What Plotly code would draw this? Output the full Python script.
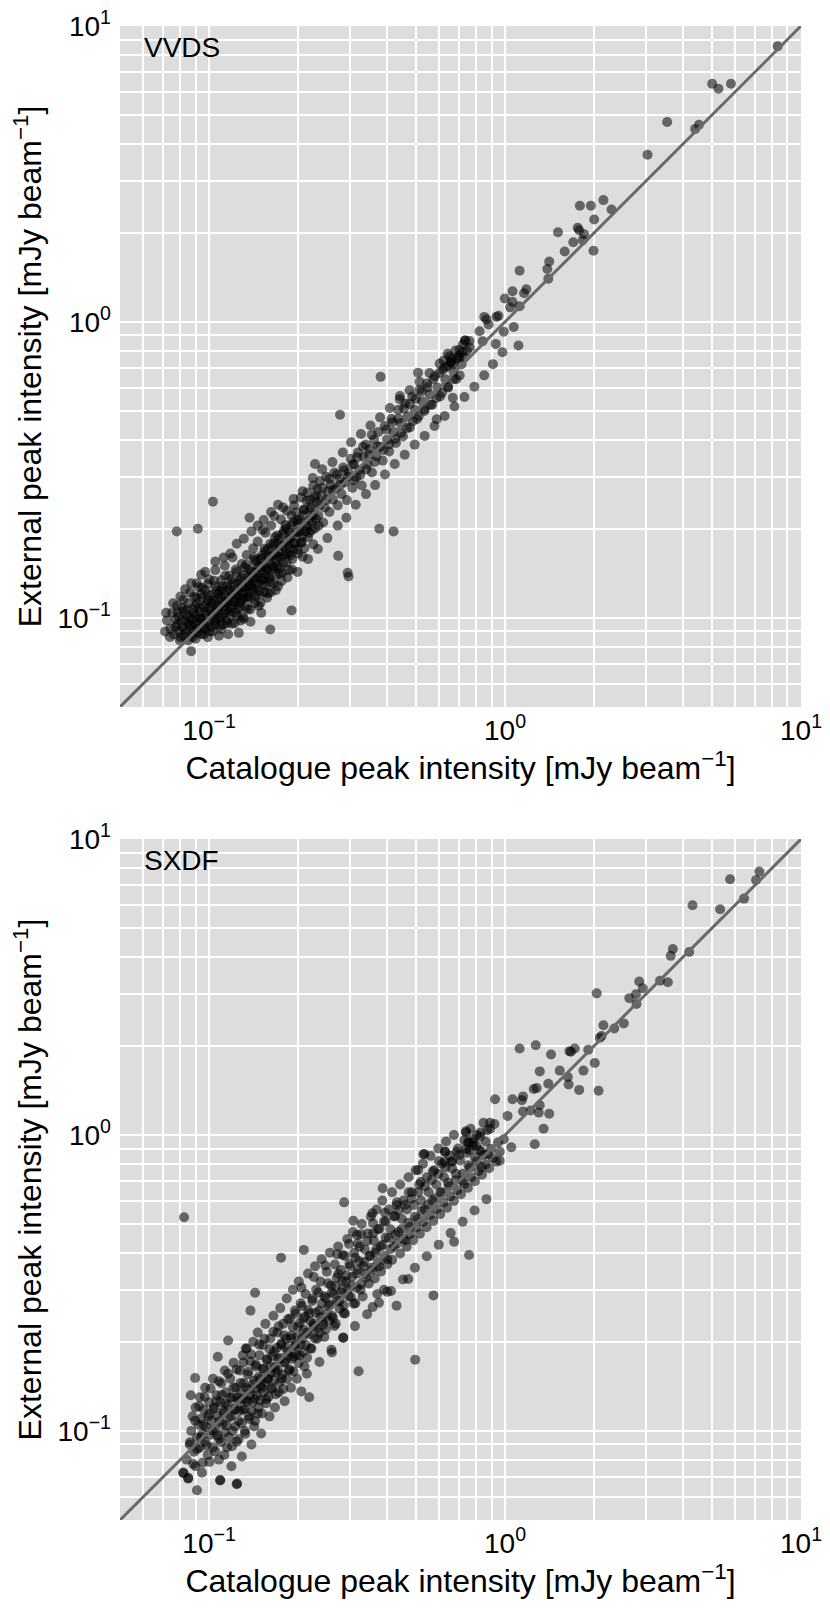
import plotly.graph_objects as go

# VVDS: catalogue peak vs external peak intensity (mJy/beam)
vvds_core = [
    (0.072, 0.098), (0.074, 0.092), (0.075, 0.104), (0.076, 0.088), (0.078, 0.095), (0.078, 0.110),
    (0.079, 0.101), (0.080, 0.086), (0.080, 0.118), (0.081, 0.093), (0.082, 0.105), (0.083, 0.098),
    (0.083, 0.125), (0.084, 0.089), (0.085, 0.112), (0.085, 0.084), (0.086, 0.100), (0.087, 0.095),
    (0.087, 0.131), (0.088, 0.107), (0.089, 0.090), (0.089, 0.118), (0.090, 0.102), (0.090, 0.085),
    (0.091, 0.112), (0.092, 0.096), (0.092, 0.127), (0.093, 0.105), (0.094, 0.088), (0.094, 0.140),
    (0.095, 0.099), (0.095, 0.117), (0.096, 0.109), (0.097, 0.092), (0.097, 0.124), (0.098, 0.102),
    (0.099, 0.115), (0.099, 0.086), (0.100, 0.108), (0.100, 0.135), (0.101, 0.097), (0.102, 0.120),
    (0.103, 0.112), (0.103, 0.090), (0.104, 0.104), (0.105, 0.128), (0.105, 0.145), (0.106, 0.099),
    (0.107, 0.116), (0.108, 0.109), (0.108, 0.087), (0.109, 0.123), (0.110, 0.134), (0.110, 0.101),
    (0.111, 0.112), (0.112, 0.095), (0.113, 0.119), (0.113, 0.150), (0.114, 0.106), (0.115, 0.128),
    (0.116, 0.113), (0.116, 0.088), (0.117, 0.139), (0.118, 0.102), (0.119, 0.121), (0.120, 0.110),
    (0.120, 0.160), (0.121, 0.131), (0.122, 0.096), (0.123, 0.117), (0.124, 0.143), (0.125, 0.107),
    (0.125, 0.125), (0.126, 0.089), (0.127, 0.134), (0.128, 0.114), (0.129, 0.152), (0.130, 0.121),
    (0.130, 0.101), (0.131, 0.140), (0.132, 0.127), (0.133, 0.109), (0.134, 0.163), (0.135, 0.131),
    (0.136, 0.118), (0.137, 0.146), (0.138, 0.097), (0.139, 0.136), (0.140, 0.124), (0.141, 0.172),
    (0.142, 0.142), (0.143, 0.112), (0.144, 0.155), (0.145, 0.131), (0.146, 0.181), (0.147, 0.120),
    (0.148, 0.148), (0.149, 0.137), (0.150, 0.104), (0.151, 0.163), (0.152, 0.129), (0.153, 0.150),
    (0.155, 0.194), (0.156, 0.140), (0.157, 0.117), (0.158, 0.171), (0.160, 0.155), (0.161, 0.132),
    (0.162, 0.205), (0.163, 0.162), (0.165, 0.146), (0.166, 0.178), (0.168, 0.124), (0.169, 0.157),
    (0.170, 0.190), (0.172, 0.168), (0.173, 0.141), (0.175, 0.215), (0.176, 0.175), (0.178, 0.153),
    (0.179, 0.197), (0.181, 0.164), (0.183, 0.230), (0.184, 0.183), (0.186, 0.145), (0.187, 0.172),
    (0.189, 0.206), (0.191, 0.158), (0.192, 0.190), (0.194, 0.240), (0.196, 0.178), (0.198, 0.214),
    (0.200, 0.165), (0.202, 0.196), (0.204, 0.255), (0.206, 0.187), (0.208, 0.222), (0.210, 0.172),
]

vvds_core_extra = [
    (0.077, 0.099), (0.079, 0.090), (0.081, 0.108), (0.082, 0.087), (0.084, 0.102), (0.086, 0.094),
    (0.088, 0.099), (0.088, 0.086), (0.090, 0.110), (0.091, 0.092), (0.093, 0.100), (0.094, 0.120),
    (0.096, 0.095), (0.096, 0.088), (0.098, 0.112), (0.099, 0.130), (0.101, 0.105), (0.102, 0.093),
    (0.104, 0.115), (0.105, 0.097), (0.106, 0.124), (0.107, 0.106), (0.109, 0.094), (0.110, 0.117),
    (0.111, 0.128), (0.112, 0.103), (0.114, 0.113), (0.115, 0.096), (0.117, 0.124), (0.118, 0.108),
    (0.119, 0.135), (0.121, 0.114), (0.122, 0.104), (0.124, 0.122), (0.126, 0.131), (0.127, 0.112),
    (0.128, 0.098), (0.129, 0.127), (0.131, 0.117), (0.132, 0.148), (0.134, 0.122), (0.135, 0.107),
    (0.136, 0.138), (0.138, 0.128), (0.139, 0.116), (0.141, 0.133), (0.142, 0.157), (0.144, 0.126),
    (0.146, 0.142), (0.147, 0.110), (0.149, 0.158), (0.150, 0.134), (0.152, 0.145), (0.154, 0.122),
    (0.155, 0.168), (0.157, 0.146), (0.159, 0.138), (0.161, 0.178), (0.163, 0.150), (0.165, 0.131),
    (0.167, 0.165), (0.170, 0.150), (0.172, 0.185), (0.174, 0.160), (0.177, 0.142), (0.180, 0.175),
    (0.182, 0.200), (0.185, 0.165), (0.188, 0.185), (0.190, 0.222), (0.193, 0.170), (0.197, 0.195),
    (0.200, 0.210), (0.205, 0.180), (0.209, 0.232), (0.214, 0.200), (0.219, 0.250), (0.224, 0.222),
    (0.230, 0.260), (0.236, 0.240), (0.242, 0.275), (0.248, 0.250), (0.255, 0.295), (0.262, 0.270),
    (0.270, 0.305), (0.278, 0.282), (0.286, 0.315), (0.295, 0.300), (0.305, 0.330),
    (0.071, 0.090), (0.0716, 0.104), (0.087, 0.0772), (0.161, 0.0913), (0.190, 0.106),
    (0.118, 0.165), (0.124, 0.178), (0.131, 0.185), (0.139, 0.196), (0.146, 0.205), (0.153, 0.214),
    (0.162, 0.228), (0.171, 0.241), (0.105, 0.155), (0.112, 0.160), (0.097, 0.143), (0.091, 0.131),
]

vvds_core_more = [
    (0.0738, 0.0862), (0.0756, 0.1121), (0.0769, 0.0934), (0.0783, 0.1047), (0.0797, 0.0839),
    (0.0806, 0.0978), (0.0819, 0.1152), (0.0828, 0.0912), (0.0841, 0.1067), (0.0853, 0.0958),
    (0.0862, 0.1219), (0.0874, 0.0881), (0.0886, 0.1034), (0.0895, 0.0951), (0.0907, 0.1169),
    (0.0918, 0.0893), (0.0927, 0.1082), (0.0939, 0.0987), (0.0948, 0.1264), (0.0961, 0.0917),
    (0.0972, 0.1046), (0.0984, 0.0962), (0.0993, 0.1198), (0.1006, 0.0899), (0.1017, 0.1123),
    (0.1029, 0.1018), (0.1038, 0.1336), (0.1051, 0.0952), (0.1062, 0.1089), (0.1074, 0.1207),
    (0.1086, 0.1003), (0.1097, 0.0915), (0.1108, 0.1246), (0.1121, 0.1091), (0.1133, 0.1387),
    (0.1144, 0.0982), (0.1157, 0.1162), (0.1168, 0.1053), (0.1181, 0.1291), (0.1193, 0.0956),
    (0.1206, 0.1203), (0.1219, 0.1127), (0.1231, 0.1457), (0.1243, 0.1018), (0.1256, 0.1189),
    (0.1269, 0.1087), (0.1282, 0.1368), (0.1296, 0.1153), (0.1309, 0.0994), (0.1322, 0.1265),
    (0.1336, 0.1512), (0.1349, 0.1178), (0.1363, 0.1321), (0.1377, 0.1068), (0.1391, 0.1429),
    (0.1405, 0.1256), (0.1419, 0.1602), (0.1434, 0.1183), (0.1448, 0.1367), (0.1463, 0.1491),
    (0.1478, 0.1231), (0.1493, 0.1125), (0.1508, 0.1589), (0.1523, 0.1352), (0.1539, 0.1713),
    (0.1554, 0.1287), (0.1570, 0.1461), (0.1586, 0.1611), (0.1602, 0.1358), (0.1619, 0.1221),
    (0.1635, 0.1756), (0.1652, 0.1484), (0.1669, 0.1872), (0.1686, 0.1402), (0.1703, 0.1612),
    (0.1721, 0.1779), (0.1738, 0.1478), (0.1756, 0.1331), (0.1774, 0.1926), (0.1792, 0.1631),
    (0.1811, 0.2058), (0.1829, 0.1542), (0.1848, 0.1768), (0.1867, 0.1952), (0.1886, 0.1627),
    (0.1906, 0.1458), (0.1926, 0.2103), (0.1946, 0.1786), (0.1966, 0.2276), (0.1986, 0.1703),
    (0.2007, 0.1942), (0.2028, 0.2151), (0.2049, 0.1796), (0.2070, 0.1609), (0.2092, 0.2318),
    (0.2114, 0.1963), (0.2136, 0.2487), (0.2158, 0.1872), (0.2181, 0.2136), (0.2203, 0.2362),
    (0.2226, 0.1978), (0.2250, 0.1772), (0.2273, 0.2542), (0.2297, 0.2158), (0.2321, 0.2718),
    (0.2345, 0.2049),
]

vvds_band = [
    (0.213, 0.205), (0.215, 0.265), (0.218, 0.194), (0.220, 0.232), (0.223, 0.212), (0.225, 0.280),
    (0.228, 0.201), (0.231, 0.246), (0.234, 0.222), (0.237, 0.290), (0.240, 0.258), (0.243, 0.210),
    (0.246, 0.236), (0.249, 0.300), (0.252, 0.268), (0.255, 0.228), (0.258, 0.282), (0.262, 0.251),
    (0.265, 0.310), (0.268, 0.274), (0.272, 0.240), (0.276, 0.295), (0.280, 0.262), (0.284, 0.322),
    (0.288, 0.287), (0.292, 0.250), (0.297, 0.308), (0.301, 0.345), (0.305, 0.275), (0.309, 0.330),
    (0.314, 0.298), (0.318, 0.362), (0.323, 0.316), (0.328, 0.280), (0.333, 0.350), (0.338, 0.385),
    (0.343, 0.330), (0.349, 0.372), (0.355, 0.310), (0.361, 0.400), (0.367, 0.352), (0.373, 0.425),
    (0.379, 0.378), (0.386, 0.340), (0.392, 0.445), (0.399, 0.400), (0.406, 0.365), (0.413, 0.470),
    (0.420, 0.425), (0.428, 0.390), (0.436, 0.505), (0.444, 0.455), (0.452, 0.410), (0.460, 0.530),
    (0.468, 0.480), (0.477, 0.440), (0.486, 0.560), (0.495, 0.505), (0.504, 0.470), (0.514, 0.590),
    (0.524, 0.540), (0.534, 0.500), (0.545, 0.620), (0.556, 0.570), (0.567, 0.525), (0.579, 0.655),
    (0.591, 0.600), (0.603, 0.560), (0.616, 0.690), (0.629, 0.640), (0.642, 0.600), (0.656, 0.730),
    (0.670, 0.680), (0.684, 0.640), (0.698, 0.770), (0.713, 0.720), (0.728, 0.760), (0.743, 0.800),
    (0.733, 0.865), (0.760, 0.820), (0.62, 0.74), (0.64, 0.78), (0.66, 0.75), (0.68, 0.80),
    (0.70, 0.76), (0.72, 0.84), (0.67, 0.72), (0.64, 0.71),
    (0.3088, 0.2915), (0.3164, 0.3487), (0.3241, 0.3042), (0.3312, 0.3789), (0.3394, 0.3178),
    (0.3467, 0.3556), (0.3548, 0.4152), (0.3629, 0.3361), (0.3712, 0.3805), (0.3798, 0.6523),
    (0.3886, 0.3689), (0.3975, 0.4327), (0.4067, 0.3858), (0.4161, 0.4586), (0.4257, 0.4023),
    (0.4355, 0.4712), (0.4455, 0.4218), (0.4558, 0.5105), (0.4663, 0.4378), (0.4771, 0.5287),
    (0.4881, 0.4622), (0.4993, 0.5506), (0.5108, 0.4798), (0.5226, 0.5835), (0.5346, 0.5067),
    (0.5469, 0.6012), (0.5595, 0.5249), (0.5724, 0.6387), (0.5856, 0.5521), (0.5991, 0.6722),
    (0.6129, 0.5768), (0.6271, 0.7015), (0.6415, 0.6042), (0.6563, 0.7289), (0.6714, 0.6421),
    (0.6869, 0.7506), (0.7027, 0.6598), (0.7189, 0.7895), (0.5082, 0.6741), (0.4415, 0.5623),
    (0.5877, 0.4689), (0.6658, 0.5547),
    # wider scatter around the band
    (0.152, 0.198), (0.158, 0.121), (0.166, 0.221), (0.171, 0.128), (0.178, 0.236), (0.184, 0.137),
    (0.193, 0.252), (0.199, 0.143), (0.207, 0.268), (0.216, 0.158), (0.224, 0.297), (0.233, 0.171),
    (0.241, 0.318), (0.251, 0.186), (0.261, 0.336), (0.272, 0.205), (0.283, 0.362), (0.291, 0.218),
    (0.302, 0.392), (0.313, 0.241), (0.326, 0.418), (0.339, 0.262), (0.351, 0.447), (0.364, 0.281),
    (0.378, 0.476), (0.393, 0.305), (0.408, 0.512), (0.424, 0.331), (0.441, 0.548), (0.458, 0.356),
    (0.476, 0.588), (0.495, 0.385), (0.514, 0.628), (0.535, 0.412), (0.556, 0.672), (0.578, 0.445),
    (0.601, 0.722), (0.625, 0.481), (0.649, 0.765), (0.675, 0.518), (0.702, 0.805), (0.729, 0.558),
    (0.758, 0.862), (0.788, 0.604), (0.82, 0.93), (0.85, 0.66), (0.88, 0.98), (0.91, 0.72),
    (0.95, 1.05), (0.98, 0.79),
    # outliers
    (0.103, 0.247), (0.0778, 0.196), (0.0916, 0.200), (0.137, 0.218), (0.228, 0.331), (0.277, 0.486),
    (0.376, 0.200), (0.420, 0.196), (0.273, 0.162), (0.294, 0.142), (0.296, 0.138),
]

vvds_bright = [
    (8.34, 8.54), (5.01, 6.38), (5.26, 6.14), (5.80, 6.38), (3.53, 4.74), (4.39, 4.49), (4.52, 4.64),
    (3.03, 3.67), (1.79, 2.47), (1.95, 2.47), (2.15, 2.58), (2.29, 2.40), (2.00, 2.22), (1.51, 2.01),
    (1.76, 2.08), (1.78, 2.04), (1.85, 1.98), (1.70, 1.86), (1.83, 1.89), (1.99, 1.74), (1.59, 1.73),
    (1.41, 1.60), (1.39, 1.51), (1.12, 1.49), (1.40, 1.40), (1.06, 1.27), (0.998, 1.20), (1.18, 1.29),
    (1.16, 1.25), (1.06, 1.17), (1.04, 1.12), (1.12, 1.13), (0.851, 1.04), (0.865, 1.02), (0.935, 1.04),
    (0.99, 0.927), (1.07, 0.962), (0.93, 0.843), (1.11, 0.832), (0.84, 0.86), (0.733, 0.865),
]

# SXDF
sxdf_core = [
    (0.082, 0.072), (0.085, 0.069), (0.091, 0.063), (0.084, 0.080), (0.086, 0.090), (0.087, 0.100),
    (0.088, 0.112), (0.089, 0.085), (0.090, 0.120), (0.090, 0.076), (0.091, 0.095), (0.092, 0.105),
    (0.093, 0.088), (0.093, 0.130), (0.094, 0.110), (0.095, 0.078), (0.095, 0.098), (0.096, 0.118),
    (0.097, 0.092), (0.097, 0.140), (0.098, 0.103), (0.099, 0.083), (0.100, 0.114), (0.100, 0.125),
    (0.101, 0.097), (0.102, 0.108), (0.103, 0.150), (0.103, 0.088), (0.104, 0.120), (0.105, 0.101),
    (0.106, 0.132), (0.107, 0.112), (0.108, 0.080), (0.108, 0.094), (0.109, 0.125), (0.109, 0.068),
    (0.110, 0.145), (0.111, 0.106), (0.112, 0.117), (0.113, 0.160), (0.113, 0.099), (0.114, 0.135),
    (0.115, 0.088), (0.116, 0.122), (0.117, 0.111), (0.118, 0.150), (0.119, 0.076), (0.120, 0.130),
    (0.120, 0.100), (0.121, 0.170), (0.122, 0.118), (0.123, 0.140), (0.124, 0.066), (0.124, 0.092),
    (0.125, 0.126), (0.126, 0.108), (0.127, 0.160), (0.128, 0.135), (0.129, 0.082), (0.130, 0.118),
    (0.130, 0.180), (0.131, 0.145), (0.132, 0.100), (0.133, 0.128), (0.134, 0.190), (0.135, 0.155),
    (0.136, 0.112), (0.137, 0.138), (0.138, 0.172), (0.139, 0.090), (0.140, 0.125), (0.141, 0.200),
    (0.142, 0.148), (0.143, 0.108), (0.144, 0.165), (0.145, 0.132), (0.146, 0.215), (0.147, 0.120),
    (0.148, 0.180), (0.149, 0.150), (0.150, 0.098), (0.151, 0.140), (0.152, 0.195), (0.153, 0.162),
    (0.155, 0.230), (0.156, 0.128), (0.157, 0.175), (0.158, 0.150), (0.160, 0.112), (0.161, 0.205),
    (0.162, 0.165), (0.163, 0.140), (0.165, 0.245), (0.166, 0.185), (0.167, 0.120), (0.168, 0.158),
    (0.170, 0.215), (0.171, 0.175), (0.172, 0.135), (0.174, 0.260), (0.175, 0.195), (0.176, 0.150),
    (0.178, 0.230), (0.179, 0.170), (0.180, 0.126), (0.182, 0.205), (0.183, 0.280), (0.184, 0.185),
    (0.186, 0.160), (0.188, 0.240), (0.189, 0.140), (0.190, 0.210), (0.192, 0.300), (0.193, 0.178),
    (0.195, 0.255), (0.196, 0.195), (0.198, 0.150), (0.200, 0.225), (0.201, 0.320), (0.202, 0.180),
    (0.204, 0.270), (0.206, 0.205), (0.0817, 0.0723), (0.085, 0.0694), (0.1244, 0.0664),
    (0.109, 0.0683), (0.0897, 0.151), (0.0867, 0.132), (0.107, 0.178), (0.116, 0.202), (0.133, 0.190),
]

sxdf_core_more = [
    (0.0862, 0.0915), (0.0884, 0.0773), (0.0897, 0.1082), (0.0911, 0.0868), (0.0925, 0.1213),
    (0.0938, 0.0951), (0.0946, 0.0722), (0.0959, 0.1047), (0.0967, 0.1305), (0.0981, 0.0894),
    (0.0993, 0.1118), (0.1004, 0.0786), (0.1012, 0.1391), (0.1027, 0.1002), (0.1036, 0.1187),
    (0.1049, 0.0853), (0.1058, 0.1259), (0.1066, 0.0964), (0.1079, 0.1473), (0.1085, 0.1076),
    (0.1097, 0.0917), (0.1104, 0.1322), (0.1118, 0.1151), (0.1126, 0.0829), (0.1135, 0.1238),
    (0.1147, 0.1043), (0.1158, 0.1561), (0.1166, 0.0951), (0.1179, 0.1297), (0.1187, 0.1124),
    (0.1195, 0.0887), (0.1208, 0.1402), (0.1219, 0.1187), (0.1226, 0.1035), (0.1238, 0.1614),
    (0.1249, 0.1298), (0.1257, 0.0937), (0.1266, 0.1165), (0.1279, 0.1453), (0.1288, 0.1061),
    (0.1296, 0.1279), (0.1307, 0.1702), (0.1318, 0.1188), (0.1326, 0.0978), (0.1339, 0.1396),
    (0.1347, 0.1254), (0.1358, 0.1587), (0.1366, 0.1098), (0.1377, 0.1322), (0.1389, 0.1812),
    (0.1396, 0.1165), (0.1408, 0.1437), (0.1419, 0.1035), (0.1427, 0.1284), (0.1438, 0.1676),
    (0.1449, 0.1392), (0.1458, 0.1143), (0.1469, 0.1521), (0.1478, 0.1957), (0.1489, 0.1267),
    (0.1497, 0.1418), (0.1508, 0.1145), (0.1519, 0.1622), (0.1528, 0.1354), (0.1539, 0.2048),
    (0.1547, 0.1458), (0.1558, 0.1239), (0.1569, 0.1734), (0.1578, 0.1502), (0.1589, 0.1306),
    (0.1601, 0.1889), (0.1612, 0.1563), (0.1623, 0.1387), (0.1636, 0.1792), (0.1649, 0.2163),
    (0.1658, 0.1487), (0.1669, 0.1641), (0.1681, 0.1329), (0.1694, 0.1908), (0.1706, 0.1604),
    (0.1718, 0.2258), (0.1731, 0.1458), (0.1742, 0.1762), (0.1756, 0.1975), (0.1768, 0.1552),
    (0.1781, 0.1385), (0.1793, 0.2104), (0.1807, 0.1708), (0.1819, 0.1912), (0.1834, 0.1497),
    (0.1847, 0.2385), (0.1861, 0.1796), (0.1873, 0.1611), (0.1888, 0.2051), (0.1902, 0.1754),
    (0.1917, 0.2247), (0.1931, 0.1587), (0.1946, 0.1928), (0.1962, 0.2492), (0.1977, 0.1812),
    (0.1991, 0.2088), (0.2008, 0.1695), (0.2024, 0.2317), (0.2041, 0.1958), (0.2057, 0.2643),
    (0.2073, 0.1843), (0.2091, 0.2198), (0.2108, 0.2432), (0.2126, 0.1949), (0.2143, 0.1768),
    (0.2162, 0.2561), (0.2181, 0.2124), (0.2199, 0.2347), (0.2218, 0.1897), (0.2238, 0.2799),
    (0.2257, 0.2263), (0.2278, 0.2052), (0.2297, 0.2506), (0.2318, 0.2215), (0.2339, 0.2937),
    (0.2361, 0.2148), (0.2382, 0.2421), (0.2405, 0.2689), (0.2428, 0.2287), (0.2451, 0.2076),
    (0.2474, 0.2811), (0.2498, 0.2493), (0.2523, 0.3156), (0.2547, 0.2358), (0.2572, 0.2674),
    (0.2598, 0.2941), (0.2624, 0.2407), (0.2651, 0.2262), (0.2678, 0.3089), (0.2706, 0.2741),
    (0.2734, 0.3397), (0.2763, 0.2588), (0.2792, 0.2932), (0.2822, 0.3211), (0.2852, 0.2657),
    (0.2883, 0.2494), (0.2915, 0.3352), (0.2947, 0.3009), (0.2979, 0.3662), (0.3012, 0.2834),
]

sxdf_band = [
    (0.208, 0.240), (0.210, 0.165), (0.212, 0.290), (0.214, 0.215), (0.216, 0.340), (0.218, 0.250),
    (0.220, 0.190), (0.223, 0.275), (0.225, 0.230), (0.228, 0.360), (0.230, 0.300), (0.232, 0.205),
    (0.235, 0.255), (0.238, 0.320), (0.240, 0.380), (0.242, 0.235), (0.245, 0.285), (0.248, 0.220),
    (0.250, 0.345), (0.253, 0.265), (0.256, 0.400), (0.258, 0.310), (0.260, 0.245), (0.263, 0.290),
    (0.266, 0.365), (0.268, 0.230), (0.270, 0.330), (0.273, 0.420), (0.276, 0.275), (0.279, 0.350),
    (0.282, 0.300), (0.285, 0.250), (0.288, 0.390), (0.290, 0.320), (0.293, 0.445), (0.296, 0.285),
    (0.300, 0.360), (0.303, 0.310), (0.306, 0.470), (0.309, 0.400), (0.312, 0.270), (0.315, 0.340),
    (0.318, 0.430), (0.321, 0.375), (0.325, 0.300), (0.328, 0.500), (0.332, 0.360), (0.336, 0.410),
    (0.340, 0.330), (0.344, 0.465), (0.348, 0.390), (0.352, 0.530), (0.356, 0.350), (0.360, 0.440),
    (0.364, 0.400), (0.368, 0.560), (0.372, 0.480), (0.376, 0.360), (0.380, 0.420), (0.385, 0.600),
    (0.390, 0.510), (0.395, 0.450), (0.400, 0.380), (0.405, 0.560), (0.410, 0.480), (0.415, 0.640),
    (0.420, 0.420), (0.425, 0.530), (0.430, 0.580), (0.436, 0.470), (0.442, 0.680), (0.448, 0.520),
    (0.454, 0.600), (0.460, 0.440), (0.466, 0.560), (0.472, 0.720), (0.478, 0.490), (0.485, 0.640),
    (0.492, 0.580), (0.499, 0.760), (0.506, 0.520), (0.513, 0.680), (0.520, 0.600), (0.528, 0.800),
    (0.536, 0.560), (0.544, 0.720), (0.552, 0.640), (0.560, 0.850), (0.568, 0.600), (0.577, 0.760),
    (0.586, 0.680), (0.595, 0.900), (0.604, 0.640), (0.613, 0.800), (0.622, 0.720), (0.632, 0.950),
    (0.642, 0.690), (0.652, 0.850), (0.662, 0.770), (0.672, 1.000), (0.683, 0.740), (0.694, 0.900),
    (0.705, 0.820), (0.716, 0.700), (0.728, 0.960), (0.740, 0.870), (0.752, 0.790), (0.765, 1.050),
    (0.778, 0.920), (0.791, 0.840), (0.805, 1.000), (0.818, 0.890), (0.832, 0.780), (0.846, 1.100),
    (0.860, 0.950), (0.875, 0.860), (0.890, 1.050),
    (0.3046, 0.3318), (0.3081, 0.2689), (0.3117, 0.3845), (0.3152, 0.3047), (0.3189, 0.3512),
    (0.3226, 0.4193), (0.3264, 0.3129), (0.3302, 0.2847), (0.3341, 0.3721), (0.3381, 0.3389),
    (0.3421, 0.4382), (0.3462, 0.3147), (0.3503, 0.3902), (0.3545, 0.3561), (0.3588, 0.4651),
    (0.3631, 0.3274), (0.3675, 0.4108), (0.3719, 0.3712), (0.3764, 0.4823), (0.3811, 0.3457),
    (0.3857, 0.4256), (0.3905, 0.3902), (0.3953, 0.5102), (0.4002, 0.3659), (0.4051, 0.4487),
    (0.4102, 0.4112), (0.4153, 0.3784), (0.4205, 0.5321), (0.4258, 0.4602), (0.4311, 0.4289),
    (0.4366, 0.5557), (0.4421, 0.3978), (0.4477, 0.4812), (0.4534, 0.4456), (0.4592, 0.5811),
    (0.4651, 0.4188), (0.4711, 0.5047), (0.4772, 0.4625), (0.4834, 0.6089), (0.4896, 0.4413),
    (0.4959, 0.5289), (0.5024, 0.4868), (0.5089, 0.6402), (0.5156, 0.4635), (0.5223, 0.5547),
    (0.5292, 0.5091), (0.5361, 0.6705), (0.5432, 0.4879), (0.5503, 0.5818), (0.5576, 0.5367),
    (0.5651, 0.7046), (0.5726, 0.5126), (0.5802, 0.6101), (0.5879, 0.5621), (0.5958, 0.7388),
    (0.6037, 0.5402), (0.6118, 0.6395), (0.6201, 0.5912), (0.6284, 0.7763), (0.6369, 0.5681),
    (0.6455, 0.6711), (0.6542, 0.6203), (0.6631, 0.8142), (0.6721, 0.5989), (0.6812, 0.7037),
    (0.6905, 0.6512), (0.6999, 0.8554), (0.7094, 0.6301), (0.7191, 0.7389), (0.7289, 0.6834),
    (0.7389, 0.8968), (0.7491, 0.6627), (0.7594, 0.7752), (0.7698, 0.7188), (0.7804, 0.9422),
    (0.7912, 0.6975), (0.8021, 0.8141), (0.8132, 0.7551), (0.8245, 0.9885), (0.8359, 0.7338),
    (0.8475, 0.8549), (0.8593, 0.7943), (0.8713, 1.0378), (0.8834, 0.7723), (0.8957, 0.8976),
    (0.9082, 0.8349), (0.9209, 1.0892), (0.9338, 0.8127), (0.9469, 0.9431), (0.9602, 0.8771),
    # wider scatter around the band
    (0.205, 0.305), (0.214, 0.156), (0.226, 0.331), (0.236, 0.171), (0.247, 0.362), (0.259, 0.188),
    (0.271, 0.395), (0.284, 0.207), (0.297, 0.428), (0.311, 0.226), (0.326, 0.462), (0.342, 0.248),
    (0.358, 0.503), (0.375, 0.271), (0.393, 0.546), (0.412, 0.297), (0.431, 0.592), (0.452, 0.325),
    (0.473, 0.641), (0.496, 0.356), (0.519, 0.694), (0.544, 0.389), (0.570, 0.752), (0.597, 0.426),
    (0.625, 0.812), (0.655, 0.466), (0.686, 0.878), (0.719, 0.509), (0.753, 0.948), (0.789, 0.556),
    (0.826, 1.02), (0.865, 0.607),
    # outliers and sparse points
    (0.0823, 0.527), (0.286, 0.592), (0.175, 0.385), (0.209, 0.409), (0.143, 0.293), (0.138, 0.255),
    (0.497, 0.174), (0.320, 0.159), (0.573, 0.287), (0.673, 0.436), (0.756, 0.393), (0.530, 0.861),
    (0.738, 1.03), (0.627, 0.878), (0.509, 0.762), (0.386, 0.661), (0.356, 0.544), (0.307, 0.513),
    (0.316, 0.459), (0.283, 0.393), (0.430, 0.265), (0.357, 0.262), (0.37, 0.29), (0.39, 0.30),
    (0.40, 0.295), (0.471, 0.326), (0.260, 0.184), (0.218, 0.130), (0.205, 0.136), (0.284, 0.206),
]

sxdf_bright = [
    (7.23, 7.76), (7.05, 7.27), (5.76, 7.31), (6.42, 6.29), (4.30, 5.97), (5.33, 5.79), (3.69, 4.25),
    (3.63, 4.03), (4.19, 4.15), (2.84, 3.30), (2.92, 3.13), (3.34, 3.32), (3.55, 3.28), (2.63, 2.90),
    (2.77, 2.99), (2.78, 2.77), (2.04, 3.01), (2.15, 2.35), (2.34, 2.29), (2.52, 2.38), (2.09, 2.13),
    (2.12, 2.16), (1.91, 1.94), (1.72, 1.96), (1.65, 1.92), (1.67, 1.91), (1.12, 1.96), (1.27, 2.01),
    (1.43, 1.87), (2.01, 1.75), (1.84, 1.65), (1.53, 1.65), (1.63, 1.57), (1.64, 1.48), (1.78, 1.42),
    (2.07, 1.41), (1.31, 1.64), (1.40, 1.49), (1.25, 1.43), (1.28, 1.44), (1.15, 1.35), (1.14, 1.31),
    (1.06, 1.32), (0.925, 1.32), (1.31, 1.26), (1.15, 1.20), (1.22, 1.21), (1.30, 1.19), (1.41, 1.18),
    (1.02, 1.16), (0.89, 1.10), (1.35, 1.05), (0.738, 1.02), (0.78, 0.97), (0.75, 0.94), (0.80, 0.92),
    (0.76, 0.89), (0.83, 0.88), (0.99, 0.967), (1.05, 0.909), (1.26, 0.93), (0.96, 0.819),
    (0.534, 0.863), (0.627, 0.878), (0.598, 0.817), (0.66, 0.813),
]

one_to_one = [0.05, 10]
grid_vals = [0.05, 0.06, 0.07, 0.08, 0.09, 0.1, 0.2, 0.3, 0.4, 0.5, 0.6, 0.7, 0.8, 0.9,
             1, 2, 3, 4, 5, 6, 7, 8, 9, 10]
decade_labels = {0.1: "10<sup>−1</sup>", 1: "10<sup>0</sup>", 10: "10<sup>1</sup>"}
field_names = ["VVDS", "SXDF"]

panels = [vvds_core + vvds_core_extra + vvds_core_more + vvds_band + vvds_bright,
          sxdf_core + sxdf_core_more + sxdf_band + sxdf_bright]

FONT = "Liberation Sans"
fig = go.Figure()

for i, pts in enumerate(panels):
    xa = "x" if i == 0 else "x2"
    ya = "y" if i == 0 else "y2"
    fig.add_trace(go.Scatter(
        x=[p[0] for p in pts], y=[p[1] for p in pts], mode="markers",
        marker=dict(size=10, color="black", opacity=0.55, line=dict(width=0)),
        xaxis=xa, yaxis=ya, showlegend=False, hoverinfo="skip"))
    fig.add_trace(go.Scatter(
        x=one_to_one, y=one_to_one, mode="lines",
        line=dict(color="rgb(105,105,105)", width=3),
        xaxis=xa, yaxis=ya, showlegend=False, hoverinfo="skip"))

ticktext = [decade_labels.get(v, "") for v in grid_vals]
axis_common = dict(
    type="log", range=[-1.30103, 1], tickmode="array", tickvals=grid_vals, ticktext=ticktext,
    showgrid=True, gridcolor="white", gridwidth=2, zeroline=False, showline=False, ticks="",
    tickfont=dict(family=FONT, size=28, color="black"), fixedrange=True, automargin=False,
    ticklabeloverflow="allow",
)
xtitle = "Catalogue peak intensity [mJy beam<sup>−1</sup>]"
ytitle = "External peak intensity [mJy beam<sup>−1</sup>]"
title_font = dict(family=FONT, size=32, color="black")

# two square panels of 681 px in a 1494 px tall plotting area
d_top = [0.5442, 1.0]
d_bot = [0.0, 0.4558]

# the page body adds an 8px margin, so the figure itself is 16px smaller
fig.update_layout(
    width=814, height=1595,
    margin=dict(l=112, r=21, t=18, b=83),
    paper_bgcolor="white", plot_bgcolor="rgb(221,221,221)",
    font=dict(family=FONT, size=28, color="black"),
    xaxis=dict(axis_common, domain=[0, 1], anchor="y", ticklabelstandoff=4,
               title=dict(text=xtitle, font=title_font, standoff=8)),
    yaxis=dict(axis_common, domain=d_top, anchor="x", ticklabelstandoff=8,
               title=dict(text=ytitle, font=title_font, standoff=6)),
    xaxis2=dict(axis_common, domain=[0, 1], anchor="y2", ticklabelstandoff=4,
                title=dict(text=xtitle, font=title_font, standoff=8)),
    yaxis2=dict(axis_common, domain=d_bot, anchor="x2", ticklabelstandoff=8,
                title=dict(text=ytitle, font=title_font, standoff=6)),
)

for i, name in enumerate(field_names):
    sfx = "" if i == 0 else "2"
    fig.add_annotation(text=name, xref="x%s domain" % sfx, yref="y%s domain" % sfx,
                       x=0.032, y=0.968, xanchor="left", yanchor="middle", showarrow=False,
                       font=dict(family=FONT, size=28, color="black"))

fig.write_html("out.html")
